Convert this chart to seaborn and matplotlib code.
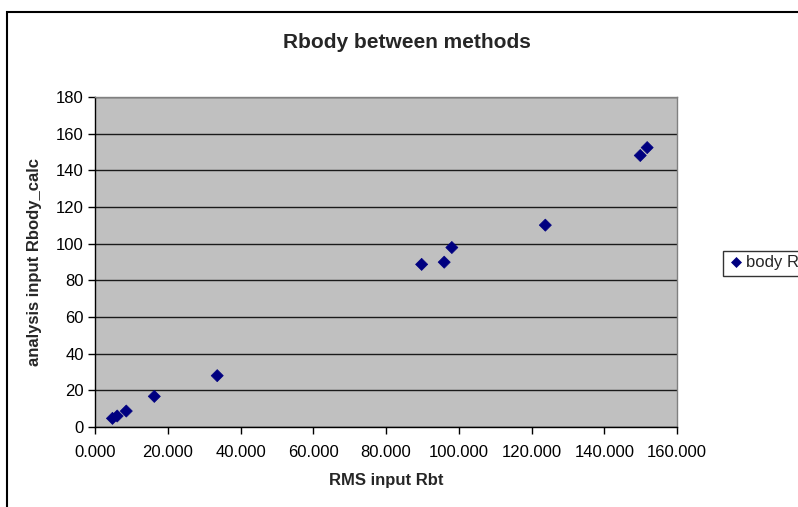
import matplotlib
matplotlib.use("Agg")
import matplotlib.pyplot as plt
import seaborn as sns
import pandas as pd
from matplotlib.patches import Rectangle
from matplotlib.ticker import FormatStrFormatter

rms_rbt = [4.8, 6.1, 8.6, 16.3, 33.6, 89.8, 96.0, 98.1, 123.8, 149.9, 151.8]
rbody_calc = [4.7, 6.0, 8.7, 16.7, 28.0, 88.7, 89.9, 97.9, 110.1, 148.1, 152.4]
series_name = "body Rbody"
x_ticks = [0, 20, 40, 60, 80, 100, 120, 140, 160]
y_ticks = [0, 20, 40, 60, 80, 100, 120, 140, 160, 180]

df = pd.DataFrame({"x": rms_rbt, "y": rbody_calc, "s": series_name})

sns.set_theme(style="white")
plt.rcParams["font.family"] = ["Liberation Sans", "DejaVu Sans"]

fig = plt.figure(figsize=(7.98, 5.07), dpi=100)
ax = fig.add_axes([95/798, 1-427/507, (677-95)/798, (427-97)/507])
ax.set_facecolor("#C0C0C0")

sns.scatterplot(data=df, x="x", y="y", hue="s", palette=["#000080"], marker="D",
                s=38, edgecolor="#000080", linewidth=0.5, ax=ax, zorder=3)

ax.set_xlim(0, 160)
ax.set_ylim(0, 180)
ax.set_xticks(x_ticks)
ax.set_yticks(y_ticks)
ax.xaxis.set_major_formatter(FormatStrFormatter("%.3f"))
ax.yaxis.set_major_formatter(FormatStrFormatter("%d"))
ax.tick_params(axis="both", which="major", direction="out", length=5, width=1,
               color="black", labelsize=12, labelcolor="black",
               bottom=True, left=True)
ax.tick_params(axis="x", pad=8)
ax.tick_params(axis="y", pad=3)
ax.yaxis.grid(True, color="#1a1a1a", linewidth=1.0, zorder=1)
ax.xaxis.grid(False)
ax.set_axisbelow(True)
for side in ["left", "bottom"]:
    ax.spines[side].set_color("black")
    ax.spines[side].set_linewidth(1.0)
for side in ["top", "right"]:
    ax.spines[side].set_color("#808080")
    ax.spines[side].set_linewidth(1.0)

ax.set_xlabel("RMS input Rbt", fontsize=12, fontweight="bold", labelpad=9)
ax.set_ylabel("analysis input Rbody_calc", fontsize=12, fontweight="bold", labelpad=10)

fig.text(407/798, 1-42/507, "Rbody between methods", ha="center", va="center",
         fontsize=15, fontweight="bold")

leg = ax.legend(loc="center left", bbox_to_anchor=(723/798, 1-263/507),
                bbox_transform=fig.transFigure, frameon=True, fontsize=12,
                handletextpad=0.1, borderpad=0.3, handlelength=1.0,
                markerscale=0.8, fancybox=False, borderaxespad=0)
leg.get_frame().set_edgecolor("black")
leg.get_frame().set_linewidth(1.0)

# chart border (top-left visible)
fig.patches.append(Rectangle((6.5/798, -0.1), 2, 1-11.5/507+0.1,
                             transform=fig.transFigure, fill=False,
                             edgecolor="black", linewidth=1.5, zorder=0))

fig.savefig("out.png", dpi=100)
